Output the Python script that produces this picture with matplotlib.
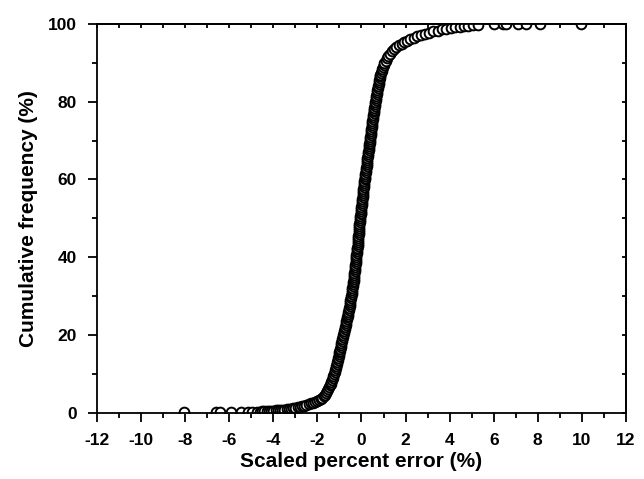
import matplotlib
matplotlib.use('Agg')
import matplotlib.pyplot as plt
from matplotlib.ticker import MultipleLocator, NullFormatter

plt.rcParams['font.family'] = ['Liberation Sans', 'DejaVu Sans']
plt.rcParams['font.weight'] = 'bold'
plt.rcParams['axes.unicode_minus'] = False

# scaled percent error (%) and cumulative frequency (%)
tail_err = [-8.05, -6.6, -6.4, -5.9, -5.45, -5.15, -4.95, -4.75]
tail_freq = [0.1, 0.12, 0.14, 0.16, 0.18, 0.2, 0.25, 0.28]

low_err = [-4.6, -4.5, -4.4, -4.3, -4.2, -4.1, -4.0, -3.9, -3.8, -3.7,
           -3.6, -3.5, -3.4, -3.3, -3.2, -3.1, -3.0, -2.9, -2.8, -2.7,
           -2.6, -2.5, -2.4, -2.3, -2.2, -2.1, -2.0, -1.92, -1.85, -1.78,
           -1.72, -1.67, -1.62, -1.57, -1.52, -1.48, -1.44, -1.4, -1.37, -1.33,
           -1.3, -1.27, -1.24]
low_freq = [0.3, 0.32, 0.35, 0.4, 0.45, 0.5, 0.55, 0.6, 0.65, 0.7,
            0.75, 0.82, 0.9, 0.97, 1.05, 1.15, 1.25, 1.37, 1.5, 1.65,
            1.8, 2.0, 2.2, 2.4, 2.6, 2.85, 3.1, 3.35, 3.6, 3.9,
            4.2, 4.6, 5.0, 5.5, 6.0, 6.5, 7.0, 7.5, 8.0, 8.5,
            9.0, 9.5, 10.0]

mid_err = [-1.21, -1.19, -1.17, -1.15, -1.12, -1.1, -1.08, -1.06, -1.04, -1.02,
           -1.0, -0.98, -0.96, -0.95, -0.93, -0.91, -0.89, -0.87, -0.85, -0.83,
           -0.8, -0.78, -0.76, -0.74, -0.72, -0.7, -0.68, -0.66, -0.64, -0.62,
           -0.6, -0.59, -0.57, -0.56, -0.54, -0.53, -0.51, -0.5, -0.48, -0.47,
           -0.45, -0.44, -0.42, -0.41, -0.39, -0.38, -0.37, -0.36, -0.35, -0.34,
           -0.33, -0.32, -0.31, -0.3, -0.29, -0.28, -0.27, -0.26, -0.25, -0.24,
           -0.23, -0.22, -0.21, -0.2, -0.19, -0.18, -0.18, -0.17, -0.16, -0.15,
           -0.14, -0.13, -0.12, -0.11, -0.1, -0.09, -0.09, -0.08, -0.07, -0.06,
           -0.05, -0.04, -0.03, -0.02, -0.01, 0.0, 0.01, 0.02, 0.03, 0.04,
           0.05, 0.06, 0.07, 0.08, 0.09, 0.1, 0.11, 0.12, 0.13, 0.14,
           0.15, 0.16, 0.18, 0.19, 0.2, 0.21, 0.23, 0.24, 0.25, 0.26,
           0.27, 0.28, 0.3, 0.31, 0.32, 0.33, 0.35, 0.36, 0.37, 0.38,
           0.39, 0.4, 0.42, 0.43, 0.44, 0.45, 0.47, 0.48, 0.49, 0.5,
           0.52, 0.53, 0.54, 0.55, 0.57, 0.58, 0.59, 0.6, 0.62, 0.63,
           0.65, 0.66, 0.68, 0.69, 0.71, 0.72, 0.74, 0.76, 0.78, 0.79,
           0.81, 0.82, 0.84, 0.86, 0.88, 0.91, 0.94, 0.97, 1.0, 1.04]
mid_freq = [10.5, 11, 11.5, 12, 12.5, 13, 13.5, 14, 14.5, 15,
            15.5, 16, 16.5, 17, 17.5, 18, 18.5, 19, 19.5, 20,
            20.5, 21, 21.5, 22, 22.5, 23, 23.5, 24, 24.5, 25,
            25.5, 26, 26.5, 27, 27.5, 28, 28.5, 29, 29.5, 30,
            30.5, 31, 31.5, 32, 32.5, 33, 33.5, 34, 34.5, 35,
            35.5, 36, 36.5, 37, 37.5, 38, 38.5, 39, 39.5, 40,
            40.5, 41, 41.5, 42, 42.5, 43, 43.5, 44, 44.5, 45,
            45.5, 46, 46.5, 47, 47.5, 48, 48.5, 49, 49.5, 50,
            50.5, 51, 51.5, 52, 52.5, 53, 53.5, 54, 54.5, 55,
            55.5, 56, 56.5, 57, 57.5, 58, 58.5, 59, 59.5, 60,
            60.5, 61, 61.5, 62, 62.5, 63, 63.5, 64, 64.5, 65,
            65.5, 66, 66.5, 67, 67.5, 68, 68.5, 69, 69.5, 70,
            70.5, 71, 71.5, 72, 72.5, 73, 73.5, 74, 74.5, 75,
            75.5, 76, 76.5, 77, 77.5, 78, 78.5, 79, 79.5, 80,
            80.5, 81, 81.5, 82, 82.5, 83, 83.5, 84, 84.5, 85,
            85.5, 86, 86.5, 87, 87.5, 88, 88.5, 89, 89.5, 90]

high_err = [1.09, 1.15, 1.22, 1.3, 1.39, 1.48, 1.58, 1.7, 1.82, 1.95,
            2.08, 2.22, 2.37, 2.53, 2.7, 2.87, 3.05, 3.25, 3.45, 3.65,
            3.85, 4.05, 4.25, 4.45, 4.65, 4.85, 5.05, 5.3, 6.0, 6.4,
            6.55, 7.1, 7.45, 8.1, 9.95]
high_freq = [90.6, 91.2, 91.8, 92.4, 93.0, 93.5, 94.0, 94.5, 94.9, 95.3,
             95.7, 96.1, 96.5, 96.9, 97.2, 97.5, 97.8, 98.1, 98.3, 98.6,
             98.8, 99.0, 99.15, 99.3, 99.45, 99.6, 99.7, 99.8, 99.9, 99.92,
             99.94, 99.95, 99.96, 99.98, 100.0]

errors = tail_err + low_err + mid_err + high_err
freqs = tail_freq + low_freq + mid_freq + high_freq

fig = plt.figure(figsize=(6.44, 4.79), dpi=100)
ax = fig.add_axes([0.1506, 0.1384, 0.8214, 0.8115])

ax.plot(errors, freqs, 'o', markersize=7, markerfacecolor='white',
        markeredgecolor='black', markeredgewidth=1.4, linestyle='none')

ax.set_xlim(-12, 12)
ax.set_ylim(0, 100)
ax.xaxis.set_major_locator(MultipleLocator(2))
ax.xaxis.set_minor_locator(MultipleLocator(1))
ax.yaxis.set_major_locator(MultipleLocator(20))
ax.yaxis.set_minor_locator(MultipleLocator(10))

for s in ax.spines.values():
    s.set_linewidth(1.3)

ax.tick_params(axis='both', which='major', direction='out', length=6.5, width=1.3,
               labelsize=12.5, pad=8)
ax.tick_params(axis='both', which='minor', direction='out', length=3.5, width=1.3)

# small inward ticks on the top and right frame
top = ax.secondary_xaxis('top')
top.xaxis.set_major_locator(MultipleLocator(1))
top.xaxis.set_major_formatter(NullFormatter())
top.tick_params(direction='in', length=3, width=1.3)
right = ax.secondary_yaxis('right')
right.yaxis.set_major_locator(MultipleLocator(10))
right.yaxis.set_major_formatter(NullFormatter())
right.tick_params(direction='in', length=3, width=1.3)
for a in (top, right):
    for s in a.spines.values():
        s.set_linewidth(1.3)

ax.set_xlabel('Scaled percent error (%)', fontsize=15, fontweight='bold', labelpad=3)
ax.set_ylabel('Cumulative frequency (%)', fontsize=15, fontweight='bold', labelpad=7)

fig.savefig('out.png', dpi=100)
